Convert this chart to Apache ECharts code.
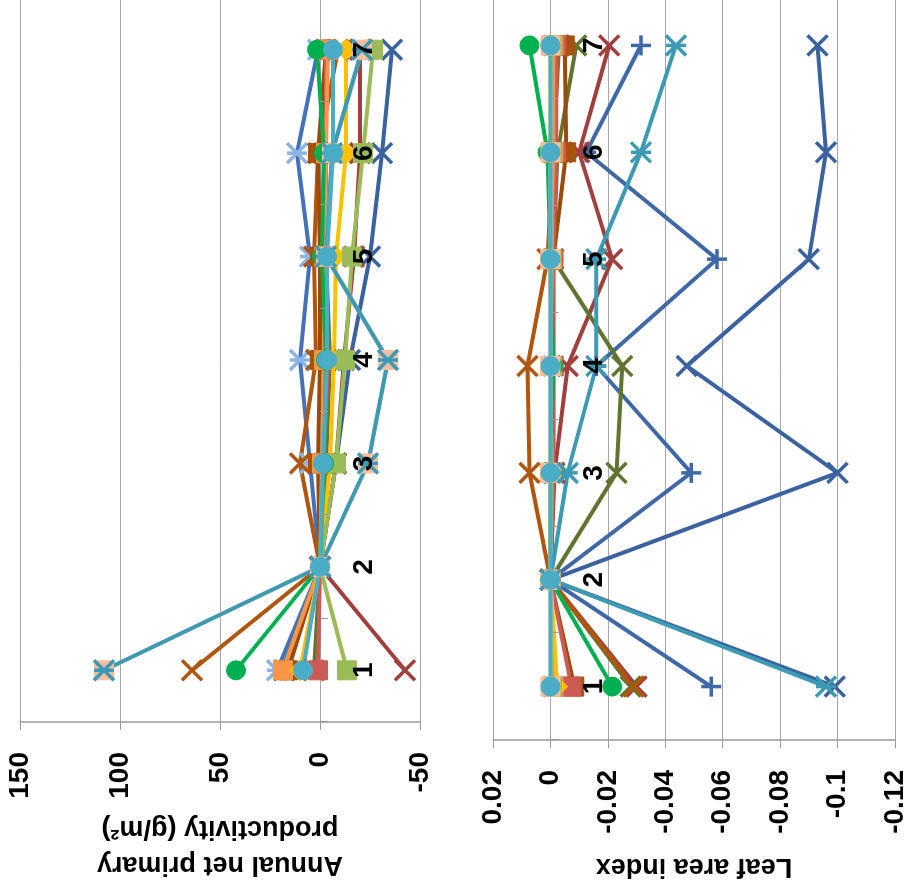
<!DOCTYPE html>
<html><head><meta charset="utf-8">
<script src="https://cdn.jsdelivr.net/npm/echarts@6/dist/echarts.min.js"></script>
<style>
html,body{margin:0;padding:0;background:#fff;overflow:hidden;width:907px;height:890px;}
#wrap{position:absolute;left:0;top:0;width:890px;height:907px;transform-origin:0 0;transform:translateY(890px) rotate(-90deg);background:#fff;}
</style></head><body><div id="wrap"></div>
<script>
// ---------------- data ----------------
const categories = ['1', '2', '3', '4', '5', '6', '7'];
const anppTicks = [-50, 0, 50, 100, 150];
const laiTicks = [-0.12, -0.1, -0.08, -0.06, -0.04, -0.02, 0, 0.02];
const anppTitle = 'Annual net primary\nproductivity (g/m²)';
const laiTitle = 'Leaf area index';

// Annual net primary productivity (g/m2)
const anppBluePlus   = [19, 0, -1, -2, -1, -2, -3];
const anppBlueStar   = [21.5, 0, 5, 10, 5, 11.5, 1];
const anppBlueX      = [18, 0, -8, -15, -25, -31, -36];
const anppDarkRedX   = [-42.5, 0, -8, -12, -17, -20, -20];
const anppOliveX     = [3, 0, -3, -5, -3, -2, -3];
const anppBrownX     = [64, 0, 10, 2, 3, 1, -9];
const anppBrownSq    = [16, 0, 1, 0, 0, 1, -3];
const anppRedSq      = [1, 0, -2, -4, -3, -3, -3];
const anppOrangeSq   = [18.5, 0, -1, -2, -2, -3, -4];
const anppYellow     = [10, 0, -5, -7, -8, -13, -13];
const anppLightGreen = [-13.5, 0, -8, -12.5, -16, -21.5, -26.5];
const anppGreenCirc  = [42, 0, -2, -3, -1, -2, 1.5];
const anppPeachSq    = [108, 0, -24, -34, -3, -6, -21];
const anppTealStar   = [108, 0, -24, -34, -3, -6, -21];
const anppLightBlue  = [8.5, 0, -1.5, -3.5, -3.5, -6.5, -6.5];

// Leaf area index
const laiBluePlus   = [-0.056, 0, -0.049, -0.016, -0.058, -0.0125, -0.0315];
const laiBlueStar   = [-0.001, 0, -0.001, -0.001, -0.001, -0.001, -0.001];
const laiBlueX      = [-0.099, 0, -0.100, -0.0475, -0.090, -0.096, -0.093];
const laiDarkRedX   = [-0.030, 0, -0.0014, -0.006, -0.0215, -0.010, -0.0205];
const laiOliveX     = [-0.028, 0, -0.023, -0.025, -0.001, -0.0025, -0.009];
const laiBrownX     = [-0.029, 0, 0.0073, 0.008, 0.001, -0.001, -0.003];
const laiBrownSq    = [-0.0083, 0, -0.001, -0.001, -0.001, -0.0055, -0.005];
const laiRedSq      = [-0.0073, 0, -0.001, -0.001, -0.001, -0.002, -0.002];
const laiOrangeSq   = [-0.001, 0, 0, 0, 0, -0.001, -0.001];
const laiYellow     = [-0.0024, 0, 0, -0.0005, 0, 0, 0];
const laiLightGreen = [-0.0005, 0, -0.0005, -0.0005, -0.0005, -0.0005, -0.0005];
const laiGreenCirc  = [-0.0215, 0, 0, -0.001, 0, 0.001, 0.0073];
const laiPeachSq    = [0, 0, 0, 0, 0, 0, 0];
const laiTealStar   = [-0.096, 0, -0.006, -0.016, -0.016, -0.0315, -0.0437];
const laiLightBlue  = [0, 0, 0, 0, 0, 0, 0];

// ---------------- styles ----------------
const SYM = {
  x: 'path://M0,0L10,10M10,0L0,10',
  plus: 'path://M5,0L5,10M0,5L10,5',
  star: 'path://M0,0L10,10M10,0L0,10M5,0L5,10'
};
const seriesStyles = [
  {key: 'BluePlus',   line: '#3E68A6', marker: '#3E68A6', sym: 'plus'},
  {key: 'BlueStar',   line: '#4472B8', marker: '#8DB4E2', sym: 'star'},
  {key: 'BlueX',      line: '#3B62A0', marker: '#3B62A0', sym: 'x'},
  {key: 'DarkRedX',   line: '#A13F3C', marker: '#A13F3C', sym: 'x'},
  {key: 'OliveX',     line: '#5F7530', marker: '#5F7530', sym: 'x'},
  {key: 'BrownX',     line: '#B0560F', marker: '#B0560F', sym: 'x'},
  {key: 'BrownSq',    line: '#9A4A0A', marker: '#A5520C', sym: 'rect'},
  {key: 'RedSq',      line: '#CD5A55', marker: '#CD5A55', sym: 'rect'},
  {key: 'OrangeSq',   line: '#F79646', marker: '#F79646', sym: 'rect'},
  {key: 'Yellow',     line: '#FFC000', marker: '#FFC000', sym: 'diamond'},
  {key: 'LightGreen', line: '#9BBB59', marker: '#9BBB59', sym: 'rect'},
  {key: 'GreenCirc',  line: '#00B050', marker: '#00B050', sym: 'circle'},
  {key: 'PeachSq',    line: '#F9BE9E', marker: '#F9BE9E', sym: 'rect'},
  {key: 'TealStar',   line: '#3C9AB4', marker: '#3C9AB4', sym: 'star'},
  {key: 'LightBlue',  line: '#4BACC6', marker: '#4BACC6', sym: 'circle'}
];
const dataMap = {
  anpp: {BluePlus: anppBluePlus, BlueStar: anppBlueStar, BlueX: anppBlueX, DarkRedX: anppDarkRedX,
    OliveX: anppOliveX, BrownX: anppBrownX, BrownSq: anppBrownSq, RedSq: anppRedSq, OrangeSq: anppOrangeSq,
    Yellow: anppYellow, LightGreen: anppLightGreen, GreenCirc: anppGreenCirc, PeachSq: anppPeachSq,
    TealStar: anppTealStar, LightBlue: anppLightBlue},
  lai: {BluePlus: laiBluePlus, BlueStar: laiBlueStar, BlueX: laiBlueX, DarkRedX: laiDarkRedX,
    OliveX: laiOliveX, BrownX: laiBrownX, BrownSq: laiBrownSq, RedSq: laiRedSq, OrangeSq: laiOrangeSq,
    Yellow: laiYellow, LightGreen: laiLightGreen, GreenCirc: laiGreenCirc, PeachSq: laiPeachSq,
    TealStar: laiTealStar, LightBlue: laiLightBlue}
};

function makeSeries(st, data, gi) {
  const stroke = (st.sym === 'x' || st.sym === 'plus' || st.sym === 'star');
  return {
    type: 'line', name: st.key + gi, data: data,
    xAxisIndex: gi, yAxisIndex: gi,
    symbol: stroke ? SYM[st.sym] : st.sym,
    symbolSize: st.sym === 'diamond' ? 21 : (stroke ? 20 : 19),
    showSymbol: true, showAllSymbol: true,
    lineStyle: {color: st.line, width: 4},
    itemStyle: stroke ? {color: 'rgba(0,0,0,0)', borderColor: st.marker, borderWidth: 3.5}
                      : {color: st.marker, borderColor: st.marker, borderWidth: 1},
    animation: false, silent: true
  };
}

const series = [];
['anpp', 'lai'].forEach(function (p, gi) {
  seriesStyles.forEach(function (st) { series.push(makeSeries(st, dataMap[p][st.key], gi)); });
});

const FONT = 'Liberation Sans';
const GRID_COLOR = '#A6A6A6';
const grids = [
  {left: 168, top: 20, width: 724, height: 400, outerBoundsMode: 'none', containLabel: false},
  {left: 150, top: 493, width: 748, height: 402, outerBoundsMode: 'none', containLabel: false}
];
// category axis crosses the value axis at 0 (like Excel): shift it from grid bottom up to the zero line
function zeroOffset(gi, ticks) {
  const mn = ticks[0], mx = ticks[ticks.length - 1];
  return -grids[gi].height * (0 - mn) / (mx - mn);
}
function catAxis(gi, ticks) {
  return {
    type: 'category', gridIndex: gi, data: categories, boundaryGap: true, z: 5,
    position: 'bottom', offset: zeroOffset(gi, ticks),
    axisLine: {show: false, onZero: false},
    axisTick: {show: true, length: 8, lineStyle: {color: '#999', width: 1}},
    axisLabel: {fontSize: 28, fontWeight: 'bold', color: '#000', fontFamily: FONT, margin: 30},
    splitLine: {show: false}
  };
}
function valAxis(gi, ticks, title, gap) {
  return {
    type: 'value', gridIndex: gi,
    min: ticks[0], max: ticks[ticks.length - 1], interval: ticks[1] - ticks[0],
    axisLine: {show: true, onZero: false, lineStyle: {color: '#999', width: 1.5}},
    axisTick: {show: true, length: 8, lineStyle: {color: '#999', width: 1}},
    axisLabel: {fontSize: 28, fontWeight: 'bold', color: '#000', fontFamily: FONT, margin: 30,
      formatter: function (v) { return String(parseFloat(v.toFixed(4))); }},
    splitLine: {show: true, lineStyle: {color: GRID_COLOR, width: 1}},
    name: title, nameLocation: 'middle', nameGap: gap,
    nameTextStyle: {fontSize: 27, fontWeight: 'bold', color: '#000', fontFamily: FONT, lineHeight: 36}
  };
}

const chart = echarts.init(document.getElementById('wrap'), null, {width: 890, height: 907, renderer: 'canvas'});
chart.setOption({
  backgroundColor: '#fff',
  animation: false,
  grid: grids,
  xAxis: [catAxis(0, anppTicks), catAxis(1, laiTicks)],
  yAxis: [valAxis(0, anppTicks, anppTitle, 88), valAxis(1, laiTicks, laiTitle, 108)],
  series: series
});
</script></body></html>
